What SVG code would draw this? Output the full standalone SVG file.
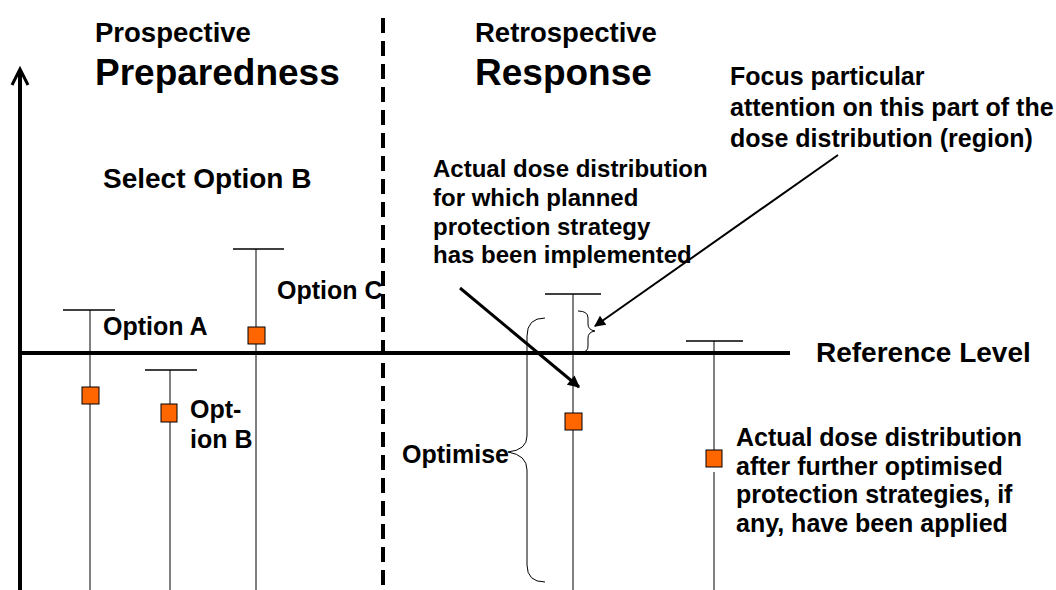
<svg xmlns="http://www.w3.org/2000/svg" width="1056" height="590" viewBox="0 0 1056 590">
<defs>
<style>
text{font-family:"Liberation Sans",Arial,sans-serif;font-weight:bold;fill:#000}
.h1{font-size:27.5px}
.h2{font-size:37px}
.t28{font-size:28px}
.t25{font-size:25px}
.t24{font-size:24px}
.bar{stroke:#000;stroke-width:1;fill:none}
.cap{stroke:#000;stroke-width:1.3;fill:none}
.sq{fill:#FF6600;stroke:#000;stroke-width:1}
.brace{stroke:#000;stroke-width:1;fill:none}
</style>
<marker id="ah" viewBox="0 0 10 10" refX="9" refY="5" markerWidth="4.5" markerHeight="4" orient="auto" markerUnits="strokeWidth">
<path d="M0,0 L10,5 L0,10 Z" fill="#000"/>
</marker>
<marker id="ah2" viewBox="0 0 10 10" refX="9" refY="5" markerWidth="6.5" markerHeight="5.5" orient="auto" markerUnits="strokeWidth">
<path d="M0,0 L10,5 L0,10 Z" fill="#000"/>
</marker>
</defs>
<rect width="1056" height="590" fill="#fff"/>
<g id="axes">
<line x1="20" y1="590" x2="20" y2="72" stroke="#000" stroke-width="4"/>
<path d="M12,85 L20,69 L28,85" fill="none" stroke="#000" stroke-width="3"/>
<line x1="18" y1="353" x2="790" y2="353" stroke="#000" stroke-width="4"/>
<line x1="383" y1="18" x2="383" y2="590" stroke="#000" stroke-width="4" stroke-dasharray="15,8"/>
</g>
<g id="headings">
<text class="h1" x="95" y="42">Prospective</text>
<text class="h2" x="95" y="85">Preparedness</text>
<text class="h1" x="475" y="42">Retrospective</text>
<text class="h2" x="475" y="85">Response</text>
<text class="t28" x="103" y="188">Select Option B</text>
<text class="t28" x="816" y="362">Reference Level</text>
</g>
<g id="optionA">
<line class="bar" x1="90" y1="310" x2="90" y2="590"/>
<line class="cap" x1="63" y1="310" x2="115" y2="310"/>
<rect class="sq" x="82" y="387" width="17" height="17"/>
<text class="t25" x="103" y="335">Option A</text>
</g>
<g id="optionB">
<line class="bar" x1="170" y1="370" x2="170" y2="590"/>
<line class="cap" x1="145" y1="370" x2="197" y2="370"/>
<rect class="sq" x="161" y="404" width="16" height="18"/>
<text class="t25" x="190" y="418">Opt-</text>
<text class="t25" x="190" y="448">ion B</text>
</g>
<g id="optionC">
<line class="bar" x1="256" y1="249" x2="256" y2="590"/>
<line class="cap" x1="233" y1="249" x2="284" y2="249"/>
<rect class="sq" x="248" y="327" width="17" height="17"/>
<text class="t25" x="277" y="299">Option C</text>
</g>
<g id="actual">
<line class="bar" x1="573" y1="294" x2="573" y2="590"/>
<line class="cap" x1="545" y1="294" x2="601" y2="294"/>
<rect class="sq" x="565" y="413" width="17" height="17"/>
</g>
<g id="further">
<line class="bar" x1="714" y1="341" x2="714" y2="450"/>
<line class="bar" x1="714" y1="472" x2="714" y2="590"/>
<line class="cap" x1="686" y1="341" x2="743" y2="341"/>
<rect class="sq" x="706" y="450" width="16" height="17"/>
</g>
<g id="braces">
<path class="brace" d="M578,311 Q588,311 588,318 L588,324 Q588,330 595,331 Q588,332 588,338 L588,346 Q588,352 582,352"/>
<path class="brace" d="M545,318 Q527,318 527,336 L527,436 Q527,450 508,452 Q527,455 527,470 L527,565 Q527,582 545,582"/>
</g>
<g id="connectors">
<line x1="460" y1="288" x2="579" y2="387" stroke="#000" stroke-width="3" marker-end="url(#ah)"/>
<line x1="838" y1="155" x2="595" y2="326" stroke="#000" stroke-width="2" marker-end="url(#ah2)"/>
</g>
<g id="labels">
<text class="t24" x="433" y="177">Actual dose distribution</text>
<text class="t24" x="433" y="206">for which planned</text>
<text class="t24" x="433" y="235">protection strategy</text>
<text class="t24" x="433" y="263">has been implemented</text>
<text class="t25" x="730" y="85">Focus particular</text>
<text class="t25" x="730" y="116">attention on this part of the</text>
<text class="t25" x="730" y="147">dose distribution (region)</text>
<text class="t25" x="402" y="463">Optimise</text>
<text class="t25" x="736" y="446">Actual dose distribution</text>
<text class="t25" x="736" y="475">after further optimised</text>
<text class="t25" x="736" y="503">protection strategies, if</text>
<text class="t25" x="736" y="532">any, have been applied</text>
</g>
</svg>
